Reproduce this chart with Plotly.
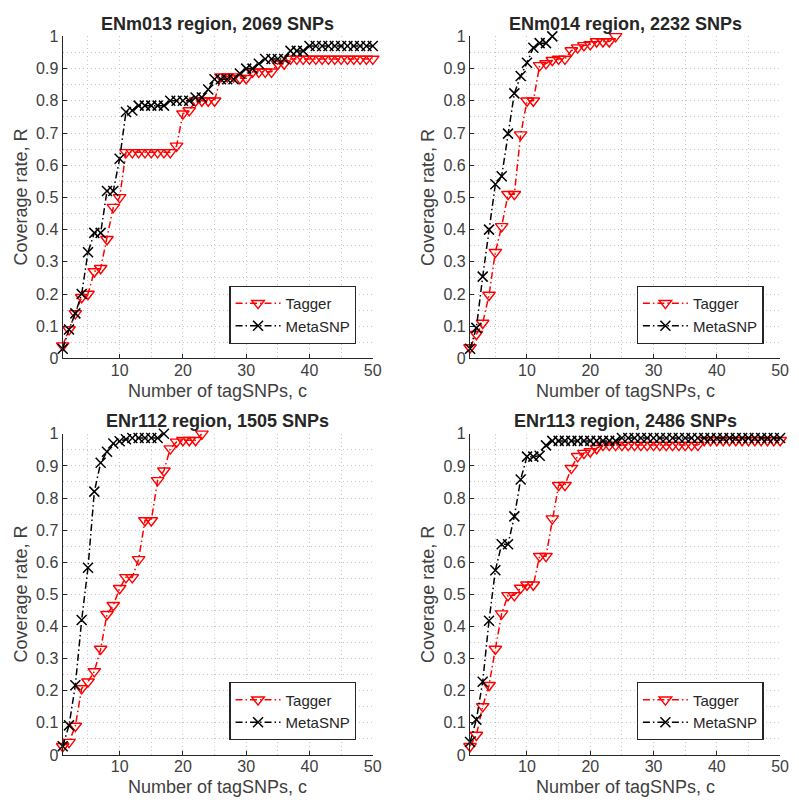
import plotly.graph_objects as go

# ---------------- data ----------------
titles = ["ENm013 region, 2069 SNPs", "ENm014 region, 2232 SNPs",
          "ENr112 region, 1505 SNPs", "ENr113 region, 2486 SNPs"]

enm013_tagger = [0.04, 0.09, 0.14, 0.19, 0.20, 0.27, 0.28, 0.37, 0.47, 0.50,
                 0.64, 0.64, 0.64, 0.64, 0.64, 0.64, 0.64, 0.64, 0.66, 0.76,
                 0.77, 0.80, 0.80, 0.80, 0.80, 0.875, 0.875, 0.875, 0.87, 0.87,
                 0.89, 0.89, 0.89, 0.89, 0.915, 0.915, 0.93, 0.93, 0.93, 0.93,
                 0.93, 0.93, 0.93, 0.93, 0.93, 0.93, 0.93, 0.93, 0.93, 0.93]
enm013_meta = [0.03, 0.09, 0.14, 0.20, 0.33, 0.39, 0.39, 0.52, 0.52, 0.62,
               0.765, 0.77, 0.785, 0.785, 0.785, 0.785, 0.785, 0.80, 0.80, 0.80,
               0.80, 0.81, 0.81, 0.835, 0.867, 0.867, 0.867, 0.867, 0.885, 0.90,
               0.90, 0.915, 0.93, 0.93, 0.93, 0.93, 0.955, 0.955, 0.955, 0.97,
               0.97, 0.97, 0.97, 0.97, 0.97, 0.97, 0.97, 0.97, 0.97, 0.97]

enm014_tagger = [0.034, 0.075, 0.11, 0.197, 0.33, 0.41, 0.51, 0.51, 0.695, 0.80,
                 0.80, 0.91, 0.916, 0.926, 0.93, 0.93, 0.956, 0.965, 0.972, 0.975,
                 0.984, 0.984, 0.984, 1.0]
enm014_meta = [0.03, 0.095, 0.254, 0.40, 0.541, 0.566, 0.698, 0.823, 0.877, 0.918,
               0.965, 0.979, 0.979, 1.0]

enr112_tagger = [0.027, 0.04, 0.09, 0.207, 0.228, 0.26, 0.33, 0.438, 0.466, 0.519,
                 0.553, 0.553, 0.609, 0.73, 0.73, 0.855, 0.885, 0.954, 0.975, 0.98,
                 0.98, 0.98, 1.0]
enr112_meta = [0.027, 0.092, 0.217, 0.42, 0.583, 0.82, 0.91, 0.944, 0.97, 0.977,
               0.983, 0.987, 0.987, 0.987, 0.987, 0.987, 1.0]

enr113_tagger = [0.027, 0.062, 0.151, 0.217, 0.33, 0.44, 0.497, 0.497, 0.52, 0.53,
                 0.53, 0.619, 0.619, 0.736, 0.84, 0.84, 0.893, 0.93, 0.94, 0.945,
                 0.955, 0.965, 0.965, 0.965, 0.965, 0.965, 0.965, 0.965, 0.965, 0.965,
                 0.965, 0.965, 0.965, 0.965, 0.965, 0.965, 0.965, 0.98, 0.98, 0.98,
                 0.98, 0.98, 0.98, 0.98, 0.98, 0.98, 0.98, 0.98, 0.98, 0.98]
enr113_meta = [0.04, 0.11, 0.228, 0.418, 0.575, 0.656, 0.656, 0.743, 0.858, 0.929,
               0.929, 0.932, 0.964, 0.978, 0.978, 0.978, 0.978, 0.978, 0.978, 0.978,
               0.978, 0.978, 0.978, 0.978, 0.987, 0.987, 0.987, 0.987, 0.987, 0.987,
               0.987, 0.987, 0.987, 0.987, 0.987, 0.987, 0.987, 0.987, 0.987, 0.987,
               0.987, 0.987, 0.987, 0.987, 0.987, 0.987, 0.987, 0.987, 0.987, 0.987]

tagger_series = [enm013_tagger, enm014_tagger, enr112_tagger, enr113_tagger]
meta_series = [enm013_meta, enm014_meta, enr112_meta, enr113_meta]

y_tickvals = [0, 0.1, 0.2, 0.3, 0.4, 0.5, 0.6, 0.7, 0.8, 0.9, 1]
y_ticktext = ["0", "0.1", "0.2", "0.3", "0.4", "0.5", "0.6", "0.7", "0.8", "0.9", "1"]
x_tickvals = [10, 20, 30, 40, 50]
x_ticktext = ["10", "20", "30", "40", "50"]

# ---------------- layout geometry ----------------
W, H = 799, 807
FONT = "Liberation Sans, Arial, Helvetica, sans-serif"
# pixel boxes: (x0, x1, ytop, ybottom)
boxes = [(63.4, 377, 29, 358), (475.4, 789, 29, 358),
         (63.4, 377, 435, 763), (475.4, 789, 435, 763)]

fig = go.Figure()
annotations = []
layout_upd = {}
DASH = "7px,3px,1.5px,3px"
GRIDC = "#c4c4c4"
GRIDDASH = "1px,3px"

for i in range(4):
    x0, x1, yt, yb = boxes[i]
    sfx = "" if i == 0 else str(i + 1)
    xa, ya = "x" + sfx, "y" + sfx
    leg = "legend" if i == 0 else "legend" + str(i + 1)
    tg = tagger_series[i]
    mt = meta_series[i]
    fig.add_trace(go.Scatter(
        x=list(range(1, len(tg) + 1)), y=tg, mode="lines+markers", name="Tagger",
        xaxis=xa, yaxis=ya, legend=leg, cliponaxis=False,
        line=dict(color="#ff0000", width=1.5, dash=DASH),
        marker=dict(symbol="triangle-down-open", size=11, color="#ff0000",
                    line=dict(color="#ff0000", width=1.4))))
    fig.add_trace(go.Scatter(
        x=list(range(1, len(mt) + 1)), y=mt, mode="lines+markers", name="MetaSNP",
        xaxis=xa, yaxis=ya, legend=leg, cliponaxis=False,
        line=dict(color="#000000", width=1.5, dash=DASH),
        marker=dict(symbol="x-thin-open", size=10, color="#000000",
                    line=dict(color="#000000", width=1.5))))

    common_grid = dict(showgrid=True, gridcolor=GRIDC, gridwidth=1.2, griddash=GRIDDASH,
                       showline=True, linecolor="#262626", linewidth=1.3,
                       ticks="inside", ticklen=4, tickcolor="#262626", zeroline=False,
                       tickfont=dict(family=FONT, size=16, color="#404040"))
    layout_upd["xaxis" + sfx] = dict(
        domain=[x0 / W, x1 / W], range=[1, 50], anchor=ya,
        tickvals=x_tickvals, ticktext=x_ticktext, ticklabelstandoff=-3,
        minor=dict(tickvals=[5, 15, 25, 35, 45], showgrid=True, gridcolor=GRIDC,
                   griddash=GRIDDASH, gridwidth=1.2, ticks=""),
        **common_grid)
    layout_upd["yaxis" + sfx] = dict(
        domain=[1 - yb / H, 1 - yt / H], range=[0, 1], anchor=xa,
        tickvals=y_tickvals, ticktext=y_ticktext,
        minor=dict(tickvals=[0.05, 0.15, 0.25, 0.35, 0.45, 0.55, 0.65, 0.75, 0.85, 0.95],
                   showgrid=True, gridcolor=GRIDC, griddash=GRIDDASH, gridwidth=1.2, ticks=""),
        **common_grid)
    # legend
    layout_upd[leg] = dict(
        x=(x0 + 297) / W, y=1 - (yb - 15) / H, xanchor="right", yanchor="bottom",
        xref="paper", yref="paper",
        bgcolor="white", bordercolor="#262626", borderwidth=1.2,
        font=dict(family=FONT, size=15, color="#262626"),
        tracegroupgap=0, itemwidth=45)
    # subplot title
    annotations.append(dict(
        text="<b>" + titles[i] + "</b>", x=(x0 + x1) / 2 / W, y=1 - (yt - 13) / H,
        xref="paper", yref="paper", xanchor="center", yanchor="middle", showarrow=False,
        font=dict(family=FONT, size=18, color="#262626")))
    # axis titles
    annotations.append(dict(
        text="Coverage rate, R", x=(x0 - 42) / W, y=1 - (yt + yb) / 2 / H,
        xref="paper", yref="paper", xanchor="center", yanchor="middle", showarrow=False,
        textangle=-90, font=dict(family=FONT, size=18, color="#404040")))
    annotations.append(dict(
        text="Number of tagSNPs, c", x=(x0 + x1) / 2 / W, y=1 - (yb + 33) / H,
        xref="paper", yref="paper", xanchor="center", yanchor="middle", showarrow=False,
        font=dict(family=FONT, size=18, color="#404040")))

fig.update_layout(
    width=W, height=H, margin=dict(l=0, r=0, t=0, b=0),
    paper_bgcolor="white", plot_bgcolor="white",
    annotations=annotations, **layout_upd)

fig.write_html("out.html")
